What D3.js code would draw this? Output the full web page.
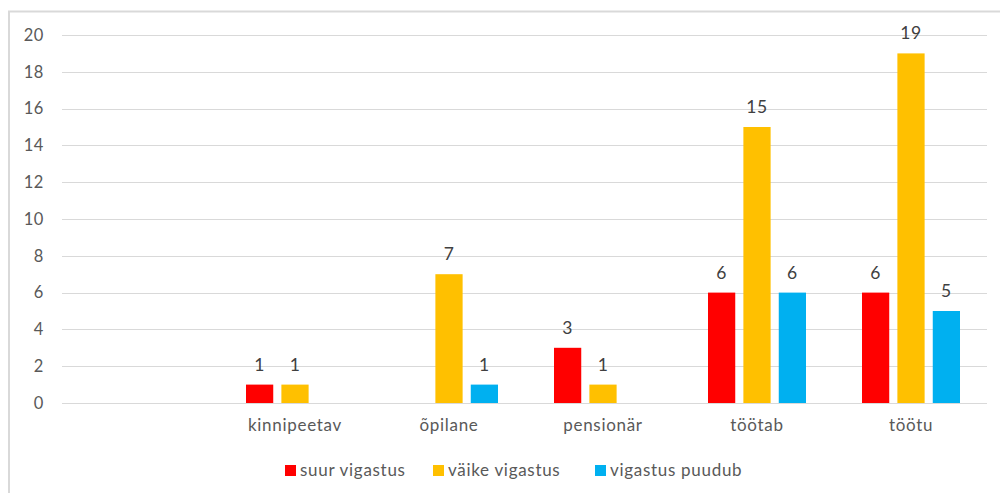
<!DOCTYPE html>
<html>
<head>
<meta charset="utf-8">
<script src="https://cdn.jsdelivr.net/npm/d3@7"></script>
<style>
  body { margin: 0; background: #fff; }
  svg { font-family: Lato, "Open Sans", sans-serif; }
</style>
</head>
<body>
<svg id="chart" width="1000" height="493"></svg>
<script>
// categories (first one is empty in the source chart)
var categories = ["", "kinnipeetav", "õpilane", "pensionär", "töötab", "töötu"];
var seriesNames = ["suur vigastus", "väike vigastus", "vigastus puudub"];
var seriesColors = ["#ff0000", "#ffc000", "#00b0f0"];

// values per series, null = no bar
var suurVigastus = [null, 1, null, 3, 6, 6];
var vaikeVigastus = [null, 1, 7, 1, 15, 19];
var vigastusPuudub = [null, null, 1, null, 6, 5];

var yTicks = [0, 2, 4, 6, 8, 10, 12, 14, 16, 18, 20];

var seriesValues = [suurVigastus, vaikeVigastus, vigastusPuudub];

var svg = d3.select("#chart");

// outer frame
svg.append("rect")
    .attr("x", 9).attr("y", 11.5)
    .attr("width", 1010).attr("height", 500)
    .attr("fill", "none")
    .attr("stroke", "#d9d9d9")
    .attr("stroke-width", 2);

var x = d3.scaleBand()
    .domain(categories.map(function (d, i) { return i; }))
    .range([64, 988]);

var xSub = d3.scaleBand()
    .domain(seriesNames)
    .range([x.bandwidth() / 2 - 49, x.bandwidth() / 2 + 49])
    .paddingInner(0.23);

var y = d3.scaleLinear()
    .domain([0, 20])
    .range([403, 35]);

// gridlines
svg.append("g")
    .selectAll("line")
    .data(yTicks)
    .enter()
    .append("line")
    .attr("x1", 62).attr("x2", 987)
    .attr("y1", function (d) { return Math.round(y(d)) + 0.5; })
    .attr("y2", function (d) { return Math.round(y(d)) + 0.5; })
    .attr("stroke", "#d9d9d9")
    .attr("stroke-width", 1);

// y labels
var yAxis = d3.axisLeft(y).tickValues(yTicks).tickSize(0).tickPadding(0);
svg.append("g")
    .attr("transform", "translate(44,0)")
    .call(yAxis)
    .call(function (g) { g.select(".domain").remove(); })
    .selectAll("text")
    .style("font-family", "Lato, 'Open Sans', sans-serif")
    .style("font-size", "16.5px")
    .style("letter-spacing", "0.6px")
    .style("fill", "#595959");

// bars
var table = [];
seriesValues.forEach(function (vals, s) {
    vals.forEach(function (v, i) {
        if (v !== null) table.push({ cat: i, series: seriesNames[s], color: seriesColors[s], value: v });
    });
});

var bars = svg.append("g");
bars.selectAll("rect")
    .data(table)
    .enter()
    .append("rect")
    .attr("x", function (d) { return x(d.cat) + xSub(d.series); })
    .attr("y", function (d) { return y(d.value); })
    .attr("width", xSub.bandwidth())
    .attr("height", function (d) { return y(0) - y(d.value); })
    .attr("fill", function (d) { return d.color; });

// data labels
bars.selectAll("text")
    .data(table)
    .enter()
    .append("text")
    .attr("x", function (d) { return x(d.cat) + xSub(d.series) + xSub.bandwidth() / 2; })
    .attr("y", function (d) { return y(d.value) - 14; })
    .attr("text-anchor", "middle")
    .style("font-size", "17.5px")
    .style("letter-spacing", "0.6px")
    .style("fill", "#404040")
    .text(function (d) { return d.value; });

// category labels
svg.append("g")
    .selectAll("text")
    .data(categories)
    .enter()
    .append("text")
    .attr("x", function (d, i) { return x(i) + x.bandwidth() / 2; })
    .attr("y", 431)
    .attr("text-anchor", "middle")
    .style("font-size", "17px")
    .style("letter-spacing", "0.7px")
    .style("fill", "#595959")
    .text(function (d) { return d; });

// legend
var legendX = [285, 433, 595];
var legend = svg.append("g");
seriesNames.forEach(function (name, s) {
    legend.append("rect")
        .attr("x", legendX[s]).attr("y", 465)
        .attr("width", 11).attr("height", 11)
        .attr("fill", seriesColors[s]);
    legend.append("text")
        .attr("x", legendX[s] + 15).attr("y", 476)
        .style("font-size", "17px")
        .style("letter-spacing", "0.7px")
        .style("fill", "#595959")
        .text(name);
});
</script>
</body>
</html>
